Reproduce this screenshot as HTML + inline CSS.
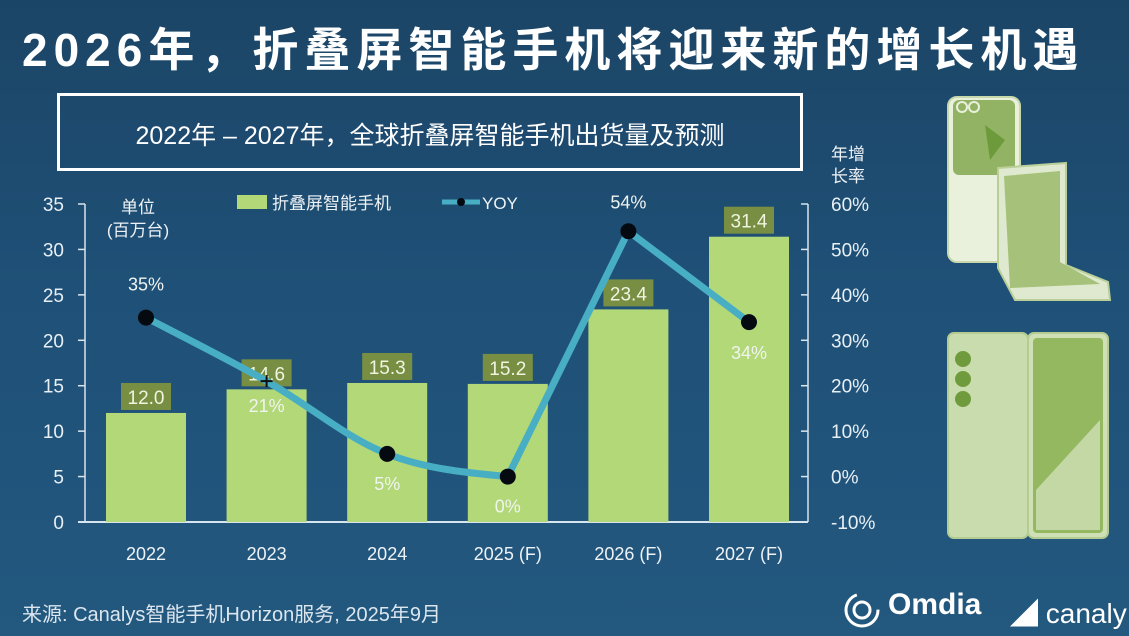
<!DOCTYPE html>
<html><head><meta charset="utf-8">
<style>
html,body{margin:0;padding:0}
body{width:1129px;height:636px;overflow:hidden;position:relative;
background:linear-gradient(180deg,#1b4566 0%,#1f5077 45%,#23587f 100%);
font-family:"Liberation Sans","Noto Sans CJK SC",sans-serif;color:#fff}
.t{position:absolute;white-space:nowrap}
</style></head><body>
<div class="t" style="left:22px;top:14px;font-size:46px;font-weight:bold;letter-spacing:6px">2026年，折叠屏智能手机将迎来新的增长机遇</div>
<div style="position:absolute;left:57px;top:93px;width:740px;height:72px;border:3px solid #fff"></div>
<div class="t" style="left:57px;top:116px;width:746px;text-align:center;font-size:25px">2022年 – 2027年，全球折叠屏智能手机出货量及预测</div>

<svg id="chart" width="1129" height="636" style="position:absolute;left:0;top:0"></svg>

<svg width="1129" height="636" style="position:absolute;left:0;top:0">
 <g>
  <rect x="948" y="97" width="72" height="165" rx="9" fill="#e9f0dc" stroke="#c7d8aa" stroke-width="2"/>
  <rect x="953" y="100" width="62" height="75" rx="6" fill="#93b364"/>
  <path d="M985 125 L1005 140 L990 160 Z" fill="#6d9a3a"/>
  <circle cx="962" cy="107" r="5" fill="none" stroke="#e9f0dc" stroke-width="2"/>
  <circle cx="974" cy="107" r="5" fill="none" stroke="#e9f0dc" stroke-width="2"/>
  <polygon points="998,168 1066,163 1066,265 1108,282 1110,300 1015,300 998,268" fill="#dfe9cf" stroke="#b9cf97" stroke-width="2"/>
  <polygon points="1004,176 1060,171 1060,262 1100,284 1010,288" fill="#a6c27a"/>
 </g>
 <g>
  <rect x="948" y="333" width="80" height="205" rx="6" fill="#c9dcae" stroke="#b4cc92" stroke-width="2"/>
  <rect x="1028" y="333" width="80" height="205" rx="6" fill="#cfe0b6" stroke="#b4cc92" stroke-width="2"/>
  <rect x="1033" y="338" width="70" height="195" rx="4" fill="#94b860"/>
  <path d="M1036 490 L1100 420 L1100 530 L1036 530 Z" fill="#d8e6c4" opacity=".7"/>
  <circle cx="963" cy="359" r="8" fill="#6f9b3c"/>
  <circle cx="963" cy="379" r="8" fill="#6f9b3c"/>
  <circle cx="963" cy="399" r="8" fill="#6f9b3c"/>
 </g>
</svg>

<div class="t" style="left:22px;top:598px;font-size:20px;color:#dbe6ef">来源: Canalys智能手机Horizon服务, 2025年9月</div>
<svg width="40" height="40" style="position:absolute;left:842px;top:590px"><circle cx="20" cy="20" r="16" fill="none" stroke="#fff" stroke-width="3" stroke-dasharray="70 30"/><circle cx="20" cy="20" r="8" fill="none" stroke="#fff" stroke-width="3"/></svg>
<div class="t" style="left:888px;top:588px;font-size:30px;font-weight:bold">Omdia</div>
<div class="t" style="left:1010px;top:592px;font-size:28px">◢ canaly</div>

<script>
const categories=["2022","2023","2024","2025 (F)","2026 (F)","2027 (F)"];
const shipments=[12.0,14.6,15.3,15.2,23.4,31.4];
const yoy=[35,21,5,0,54,34];
const leftTicks=[0,5,10,15,20,25,30,35];
const rightTicks=[-10,0,10,20,30,40,50,60];

const svg=document.getElementById('chart');
const NS='http://www.w3.org/2000/svg';
function mk(tag,attrs,parent){const e=document.createElementNS(NS,tag);for(const k in attrs)e.setAttribute(k,attrs[k]);(parent||svg).appendChild(e);return e;}
const x0=146,dx=120.6,base=522,yTop=204;
const xC=i=>x0+i*dx;
const yL=v=>base-(v/35)*(base-yTop);
const yR=v=>base-((v+10)/70)*(base-yTop);

let a=mk('line',{x1:78,y1:base,x2:808,y2:base,stroke:'#d8e4ee','stroke-width':2});


a=mk('line',{x1:85,y1:yTop,x2:85,y2:base,stroke:'#d8e4ee','stroke-width':1.5});


a=mk('line',{x1:808,y1:yTop,x2:808,y2:base,stroke:'#d8e4ee','stroke-width':1.5});



leftTicks.forEach(v=>{
 mk('line',{x1:78,y1:yL(v),x2:85,y2:yL(v),stroke:'#d8e4ee','stroke-width':1.5});
 const t=mk('text',{x:64,y:yL(v)+7,'text-anchor':'end','font-size':19,fill:'#e8f0f6'});t.textContent=v;
 
 
});
rightTicks.forEach(v=>{
 mk('line',{x1:801,y1:yR(v),x2:808,y2:yR(v),stroke:'#d8e4ee','stroke-width':1.5});
 const t=mk('text',{x:831,y:yR(v)+7,'font-size':19,fill:'#e8f0f6'});t.textContent=v+'%';
 
 
});

shipments.forEach((v,i)=>{
 const b=mk('rect',{x:xC(i)-40,y:yL(v),width:80,height:base-yL(v),fill:'#b3d877'});
 
 
 const lb=mk('rect',{x:xC(i)-25,y:yL(v)-30,width:50,height:27,fill:'#788f43'});
 
 
 const t=mk('text',{x:xC(i),y:yL(v)-9,'text-anchor':'middle','font-size':19,fill:'#f0f4e0'});t.textContent=v.toFixed(1);
 
 
 const c=mk('text',{x:xC(i),y:560,'text-anchor':'middle','font-size':18,fill:'#eef3f7'});c.textContent=categories[i];
 
 
});

const pts=yoy.map((v,i)=>[xC(i),yR(v)]);
let d='M'+pts[0][0]+' '+pts[0][1];
for(let i=0;i<pts.length-1;i++){
 const p0=pts[Math.max(0,i-1)],p1=pts[i],p2=pts[i+1],p3=pts[Math.min(pts.length-1,i+2)];
 const k=i>=3?0:0.35;
 const c1=[p1[0]+(p2[0]-p0[0])*k/2,p1[1]+(p2[1]-p0[1])*k/2];
 let c2=[p2[0]-(p3[0]-p1[0])*k/2,p2[1]-(p3[1]-p1[1])*k/2];
 if(i===2){c2=[p2[0]-30,p2[1]-3];}
 d+=` C${c1[0]} ${c1[1]} ${c2[0]} ${c2[1]} ${p2[0]} ${p2[1]}`;
}
const ln=mk('path',{d:d,fill:'none',stroke:'#48aec4','stroke-width':7,'stroke-linejoin':'round'});


const labOff=[-27,27,32,32,-23,33];
yoy.forEach((v,i)=>{
 if(i!==1){const m=mk('circle',{cx:pts[i][0],cy:pts[i][1],r:8,fill:'#050a10'});
  
  }
 else{mk('path',{d:`M${pts[i][0]-6} ${pts[i][1]}h12M${pts[i][0]} ${pts[i][1]-6}v12`,stroke:'#111','stroke-width':2});}
 const t=mk('text',{x:pts[i][0],y:pts[i][1]+labOff[i]+(labOff[i]>0?4:0),'text-anchor':'middle','font-size':18,fill:'#f0f4f0'});t.textContent=v+'%';
 
 
});

[['单位',138,213],['(百万台)',138,236]].forEach(s=>{const t=mk('text',{x:s[1],y:s[2],'text-anchor':'middle','font-size':17,fill:'#eef3f7'});t.textContent=s[0];
 
 });
[['年增',848,160],['长率',848,182]].forEach(s=>{const t=mk('text',{x:s[1],y:s[2],'text-anchor':'middle','font-size':17,fill:'#eef3f7'});t.textContent=s[0];
 
 });

let lg=mk('rect',{x:237,y:195,width:30,height:14,fill:'#b3d877'});


let lt=mk('text',{x:272,y:209,'font-size':17,fill:'#eef3f7'});lt.textContent='折叠屏智能手机';


lg=mk('line',{x1:442,y1:202,x2:480,y2:202,stroke:'#48aec4','stroke-width':5});


mk('circle',{cx:461,cy:202,r:4,fill:'#050a10'});
lt=mk('text',{x:482,y:209,'font-size':17,fill:'#eef3f7'});lt.textContent='YOY';


</script>
</body></html>
